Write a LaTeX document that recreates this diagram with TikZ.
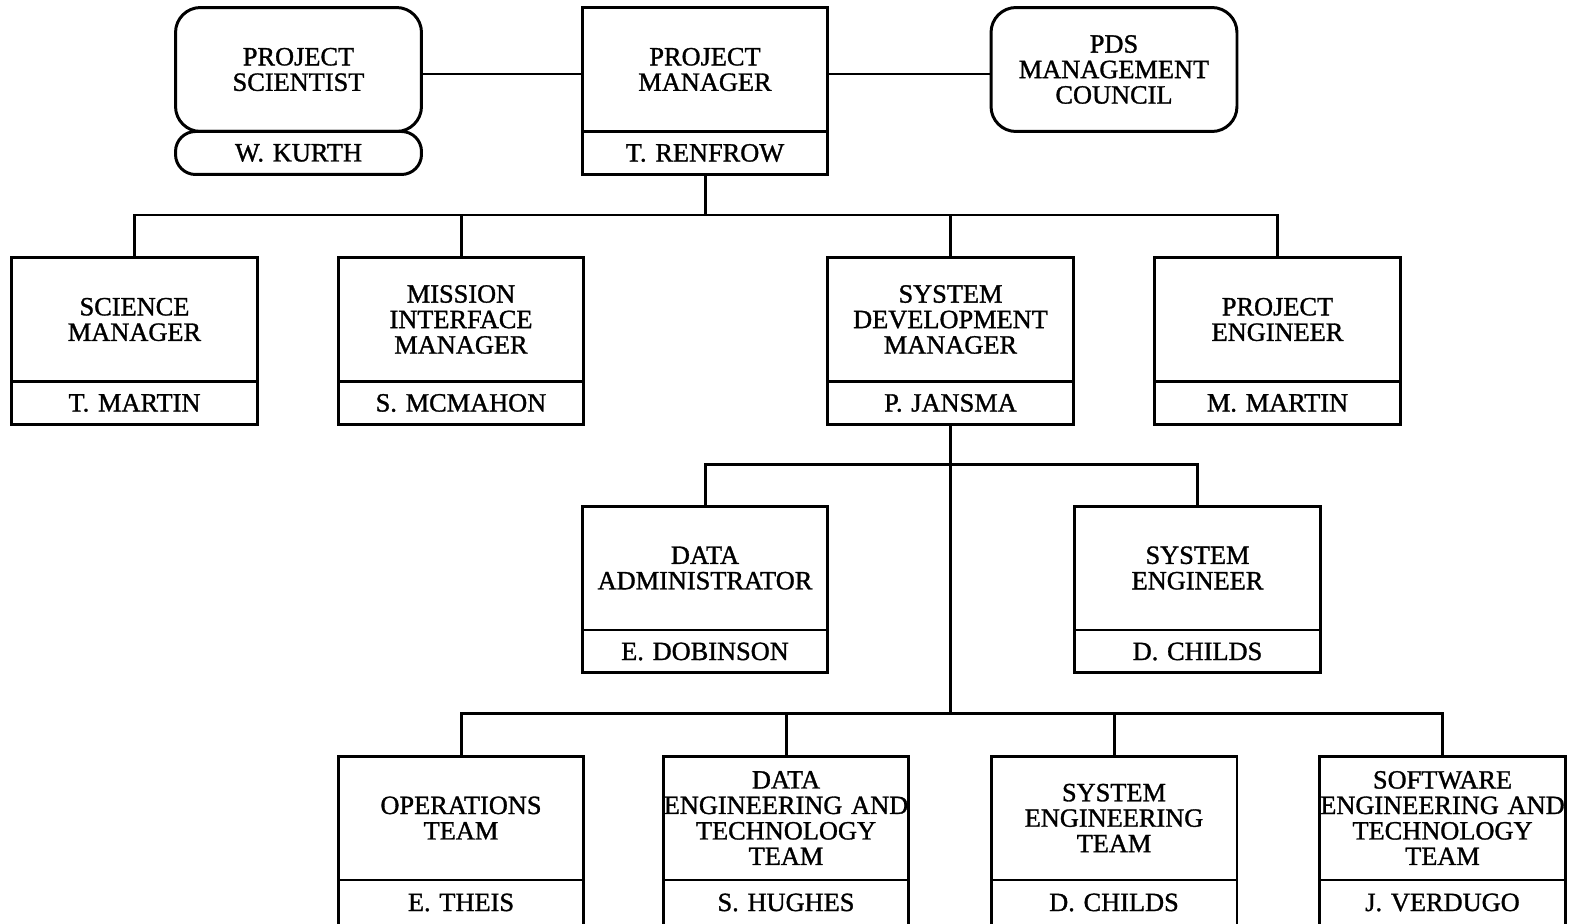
\documentclass[tikz,border=0pt]{standalone}
\usepackage{fontspec}
\setmainfont{Liberation Serif}[BoldFont=Liberation Serif, BoldFeatures={FakeBold=1.2}]
\usetikzlibrary{positioning}

\tikzset{
  orgline/.style={line width=1.7pt},
  titlebox/.style={draw, rectangle, line width=1.7pt, outer sep=0pt, inner sep=0pt,
    text width=4.92cm, align=center, minimum height=2.48cm,
    font=\fontsize{15pt}{14.5pt}\selectfont\bfseries},
  namebox/.style={titlebox, minimum height=0.86cm},
  roundbox/.style={titlebox, rounded corners=0.5cm},
}

\begin{document}
\begin{tikzpicture}[x=0.02cm, y=-0.02cm]
  % page frame (bottom row is cut off by the page edge)
  \path[use as bounding box, clip] (0,0) rectangle (1571,923);

  % top row
  \node[roundbox] (ps) at (298.5,69.5) {PROJECT\\SCIENTIST};
  \node[namebox, rounded corners=0.4cm, below=0pt of ps] (psn) {W. KURTH};
  \node[titlebox] (pm) at (705,69.5) {PROJECT\\MANAGER};
  \node[namebox, below=0pt of pm] (pmn) {T. RENFROW};
  \node[roundbox] (pds) at (1114,69.5) {PDS\\MANAGEMENT\\COUNCIL};

  % second row
  \node[titlebox] (sm) at (134.5,319.5) {SCIENCE\\MANAGER};
  \node[namebox, below=0pt of sm] (smn) {T. MARTIN};
  \node[titlebox] (mim) at (461,319.5) {MISSION\\INTERFACE\\MANAGER};
  \node[namebox, below=0pt of mim] (mimn) {S. MCMAHON};
  \node[titlebox] (sdm) at (950.5,319.5) {SYSTEM\\DEVELOPMENT\\MANAGER};
  \node[namebox, below=0pt of sdm] (sdmn) {P. JANSMA};
  \node[titlebox] (pe) at (1277.5,319.5) {PROJECT\\ENGINEER};
  \node[namebox, below=0pt of pe] (pen) {M. MARTIN};

  % third row
  \node[titlebox] (da) at (705,568) {DATA\\ADMINISTRATOR};
  \node[namebox, below=0pt of da] (dan) {E. DOBINSON};
  \node[titlebox] (se) at (1197.5,568) {SYSTEM\\ENGINEER};
  \node[namebox, below=0pt of se] (sen) {D. CHILDS};

  % bottom row
  \node[titlebox] (ops) at (461,818) {OPERATIONS\\TEAM};
  \node[namebox, minimum height=0.9cm, below=0pt of ops] (opsn) {E. THEIS};
  \node[titlebox] (det) at (786,818) {DATA\\ENGINEERING AND\\TECHNOLOGY\\TEAM};
  \node[namebox, minimum height=0.9cm, below=0pt of det] (detn) {S. HUGHES};
  \node[titlebox] (set) at (1114,818) {SYSTEM\\ENGINEERING\\TEAM};
  \node[namebox, minimum height=0.9cm, below=0pt of set] (setn) {D. CHILDS};
  \node[titlebox] (swet) at (1442.5,818) {SOFTWARE\\ENGINEERING AND\\TECHNOLOGY\\TEAM};
  \node[namebox, minimum height=0.9cm, below=0pt of swet] (swetn) {J. VERDUGO};

  % staff links
  \draw[orgline] ([yshift=-0.09cm]ps.east) -- ([yshift=-0.09cm]pm.west);
  \draw[orgline] ([yshift=-0.09cm]pm.east) -- ([yshift=-0.09cm]pds.west);

  % bus under the project manager
  \coordinate (topbus) at (705,215);
  \draw[orgline] (pmn.south) -- (topbus);
  \draw[orgline] (sm.north) |- (topbus) -| (pe.north);
  \foreach \n in {mim,sdm}
    \draw[orgline] (\n.north) -- (\n.north |- topbus);

  % buses under the system development manager
  \coordinate (midbus) at (950.5,464);
  \coordinate (lowbus) at (950.5,713);
  \draw[orgline] (sdmn.south) -- (lowbus);
  \draw[orgline] (da.north) |- (midbus) -| (se.north);
  \draw[orgline] (ops.north) |- (lowbus) -| (swet.north);
  \foreach \n in {det,set}
    \draw[orgline] (\n.north) -- (\n.north |- lowbus);
\end{tikzpicture}
\end{document}
